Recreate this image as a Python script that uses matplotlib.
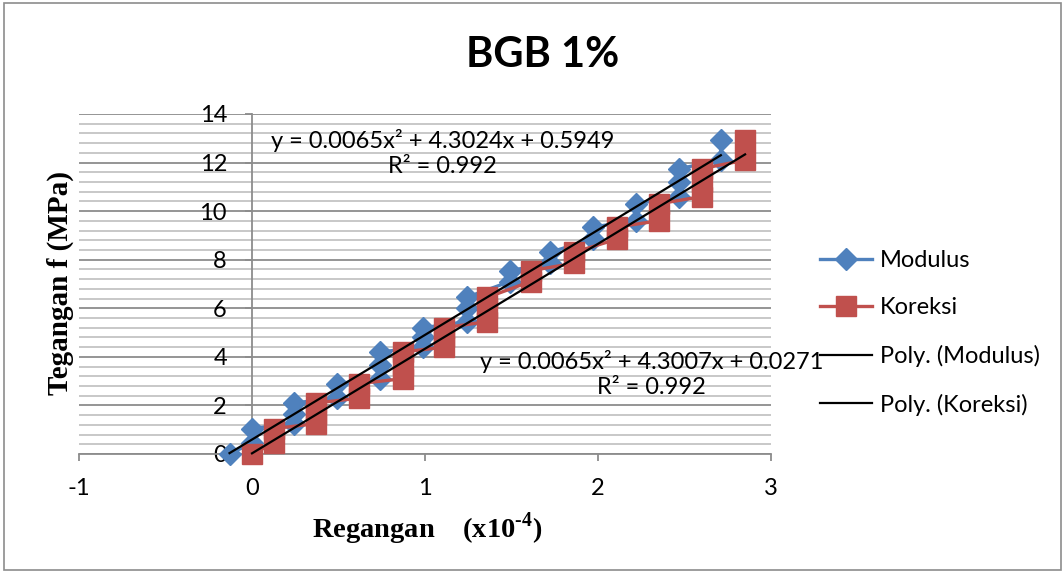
import numpy as np
import matplotlib
matplotlib.use("Agg")
import matplotlib.pyplot as plt
from matplotlib.ticker import MultipleLocator
from matplotlib.patches import Rectangle

# regangan (x10^-4) dan tegangan (MPa)
mod_strain = [-0.13, 0, 0, 0.24, 0.24, 0.24, 0.49, 0.49, 0.74, 0.74, 0.74,
              0.99, 0.99, 0.99, 1.24, 1.24, 1.24, 1.49, 1.49, 1.72, 1.72,
              1.97, 1.97, 2.22, 2.22, 2.47, 2.47, 2.47, 2.71, 2.71]
kor_strain = [0, 0.13, 0.13, 0.37, 0.37, 0.37, 0.62, 0.62, 0.87, 0.87, 0.87,
              1.11, 1.11, 1.11, 1.36, 1.36, 1.36, 1.61, 1.61, 1.86, 1.86,
              2.11, 2.11, 2.35, 2.35, 2.60, 2.60, 2.60, 2.85, 2.85]
stress = [0, 0.45, 1.05, 1.25, 1.65, 2.1, 2.3, 2.9, 3.1, 3.65, 4.2,
          4.4, 4.8, 5.2, 5.45, 6.0, 6.45, 7.1, 7.55, 7.85, 8.3,
          8.85, 9.35, 9.6, 10.3, 10.6, 11.2, 11.75, 12.1, 12.95]

# koefisien trendline polinomial orde 2 (a, b, c)
mod_fit = (0.0065, 4.3024, 0.5949)
kor_fit = (0.0065, 4.3007, 0.0271)
r2_mod = 0.992
r2_kor = 0.992

BLUE = "#4F81BD"
RED = "#C0504D"
SANS = ["Lato", "DejaVu Sans"]
SERIF = ["Liberation Serif", "DejaVu Serif"]
FS = 17

plt.rcParams["mathtext.fontset"] = "custom"
plt.rcParams["mathtext.rm"] = "Liberation Serif:bold"
plt.rcParams["mathtext.bf"] = "Liberation Serif:bold"

W, H = 1064, 573
fig = plt.figure(figsize=(W / 100, H / 100), dpi=100)
ax = fig.add_axes([79 / W, 1 - 454 / H, (771 - 79) / W, (454 - 114) / H])

# garis data
ax.plot(mod_strain, stress, color=BLUE, lw=2.4, marker="D", ms=11,
        mec=BLUE, label="Modulus", clip_on=False, zorder=3)
ax.plot(kor_strain, stress, color=RED, lw=2.4, marker="s", ms=14,
        mec=RED, label="Koreksi", clip_on=False, zorder=4)

# trendline
def poly(c, x):
    return c[0] * x ** 2 + c[1] * x + c[2]

xm = np.linspace(min(mod_strain), max(mod_strain), 50)
xk = np.linspace(min(kor_strain), max(kor_strain), 50)
ax.plot(xm, poly(mod_fit, xm), color="black", lw=1.6, label="Poly. (Modulus)",
        zorder=5, clip_on=False)
ax.plot(xk, poly(kor_fit, xk), color="black", lw=1.6, label="Poly. (Koreksi)",
        zorder=5, clip_on=False)

ax.set_xlim(-1, 3)
ax.set_ylim(0, 14)
ax.yaxis.set_minor_locator(MultipleLocator(0.4))

ax.grid(which="major", axis="y", color="#8c8c8c", lw=1.3, zorder=0)
ax.grid(which="minor", axis="y", color="#c4c4c4", lw=1.3, zorder=0)
ax.set_axisbelow(True)

for s in ["top", "right"]:
    ax.spines[s].set_visible(False)
ax.spines["left"].set_position(("data", 0))
for s in ["left", "bottom"]:
    ax.spines[s].set_color("#8c8c8c")
    ax.spines[s].set_linewidth(1.3)

ax.tick_params(axis="y", which="major", direction="out", length=5,
               color="#8c8c8c", width=1.3, pad=13)
ax.tick_params(axis="y", which="minor", length=0)
ax.tick_params(axis="x", direction="out", length=5, color="#8c8c8c",
               width=1.3, pad=12)

xt = [-1, 0, 1, 2, 3]
yt = list(range(0, 15, 2))
ax.set_xticks(xt)
ax.set_xticklabels([str(v) for v in xt], family=SANS, fontsize=FS)
ax.set_yticks(yt)
ax.set_yticklabels([str(v) for v in yt], family=SANS, fontsize=FS)

# persamaan trendline
eq_mod = f"y = {mod_fit[0]}x² + {mod_fit[1]}x + {mod_fit[2]}\nR² = {r2_mod}"
eq_kor = f"y = {kor_fit[0]}x² + {kor_fit[1]}x + {kor_fit[2]}\nR² = {r2_kor}"
ax.text(1.10, 12.4, eq_mod, ha="center", va="center", fontsize=FS,
        family=SANS, linespacing=1.2, zorder=6)
ax.text(2.31, 3.3, eq_kor, ha="center", va="center", fontsize=FS,
        family=SANS, linespacing=1.2, zorder=6, clip_on=False)

# judul dan label sumbu
fig.text(543 / W, 1 - 55 / H, "BGB 1%", ha="center", va="center",
         fontsize=30, fontweight="bold", family=SANS)
fig.text(60 / W, 1 - 283 / H, "Tegangan f (MPa)", rotation=90, ha="center",
         va="center", fontsize=21, fontweight="bold", family=SERIF)
fig.text(427 / W, 1 - 529 / H, r"Regangan    (x10$^{\text{-4}}$)",
         ha="center", va="center", fontsize=20.5, fontweight="bold", family=SERIF)

fig.legend(loc="upper left", bbox_to_anchor=(820 / W, 1 - 250 / H),
           frameon=False, handlelength=2.2, handletextpad=0.35,
           labelspacing=1.12, borderpad=0, borderaxespad=0,
           prop={"family": SANS, "size": FS})

fig.patches.append(Rectangle((4 / W, 3 / H), (W - 7) / W, (H - 6) / H,
                             transform=fig.transFigure, fill=False,
                             edgecolor="#8c8c8c", lw=1.2))

fig.savefig("out.png", dpi=100)
